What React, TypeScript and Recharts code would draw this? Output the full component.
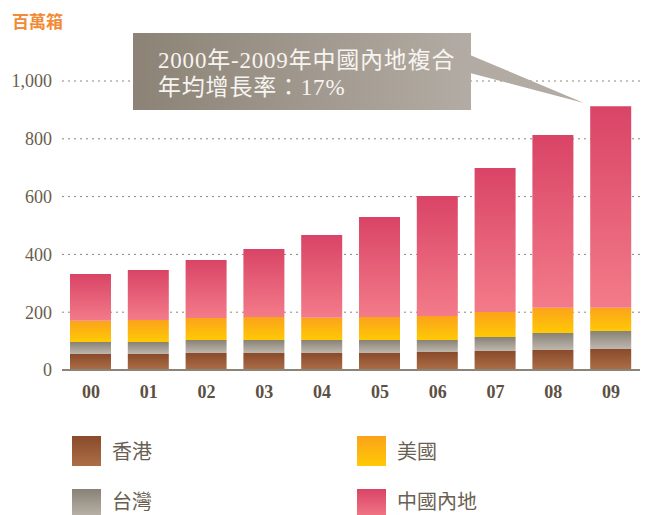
import React from "react";
import { BarChart, Bar, XAxis, YAxis, CartesianGrid } from "recharts";

// years (2000-2009), unit: 百萬箱
const years = ["00", "01", "02", "03", "04", "05", "06", "07", "08", "09"];
const hongKong = [55, 55, 59, 59, 59, 59, 62, 66, 69, 73];
const taiwan = [42, 42, 45, 45, 45, 45, 42, 48, 59, 62];
const usa = [73, 76, 76, 79, 77, 79, 83, 87, 87, 80];
const mainland = [162, 173, 201, 236, 286, 346, 415, 498, 598, 698];
const yTicks = [0, 200, 400, 600, 800, 1000];

const series = [
  { key: "hk", name: "香港", values: hongKong, top: "#8a4a2b", bottom: "#ab6f47" },
  { key: "tw", name: "台灣", values: taiwan, top: "#888175", bottom: "#bdb7ae" },
  { key: "us", name: "美國", values: usa, top: "#fba31b", bottom: "#ffc904" },
  { key: "cn", name: "中國內地", values: mainland, top: "#d94466", bottom: "#f37b89" },
];

const data = years.map((year, i) => {
  const row: Record<string, string | number> = { year };
  series.forEach((s) => {
    row[s.key] = s.values[i];
  });
  return row;
});

const serif = "'Liberation Serif', 'Times New Roman', serif";
const cjk = "'Noto Sans CJK TC', 'Noto Sans CJK SC', sans-serif";

function LegendItem({ label, top, bottom, left, y, textTop }: any) {
  return (
    <>
      <div
        style={{
          position: "absolute",
          left,
          top: y,
          width: 29,
          height: 30,
          background: `linear-gradient(to bottom, ${top}, ${bottom})`,
        }}
      />
      <div
        style={{
          position: "absolute",
          left: left + 40,
          top: textTop,
          fontFamily: cjk,
          fontSize: 20,
          color: "#6a5f52",
          lineHeight: "20px",
          whiteSpace: "nowrap",
        }}
      >
        {label}
      </div>
    </>
  );
}

export default function App() {
  return (
    <div
      style={{
        position: "absolute",
        left: 0,
        top: 0,
        width: 646,
        height: 515,
        overflow: "hidden",
        background: "#fff",
      }}
    >
      <div
        style={{
          position: "absolute",
          left: 12,
          top: 12,
          fontFamily: cjk,
          fontWeight: 700,
          fontSize: 17,
          lineHeight: "17px",
          color: "#f28a36",
        }}
      >
        百萬箱
      </div>

      <div style={{ position: "absolute", left: 0, top: 0 }}>
        <BarChart
          width={646}
          height={420}
          data={data}
          margin={{ top: 81, right: 6, left: 0, bottom: 0 }}
        >
          <defs>
            {series.map((s) => (
              <linearGradient key={s.key} id={`grad-${s.key}`} x1="0" y1="0" x2="0" y2="1">
                <stop offset="0%" stopColor={s.top} />
                <stop offset="100%" stopColor={s.bottom} />
              </linearGradient>
            ))}
          </defs>
          <CartesianGrid
            vertical={false}
            stroke="#8f8676"
            strokeDasharray="2 4"
            strokeWidth={1}
          />
          <XAxis
            dataKey="year"
            height={50}
            tickLine={false}
            tickSize={0}
            tickMargin={15}
            axisLine={{ stroke: "#8c8477", strokeWidth: 2 }}
            tick={{ fontFamily: serif, fontWeight: 700, fontSize: 18, fill: "#5c5044" }}
          />
          <YAxis
            width={62}
            domain={[0, 1000]}
            ticks={yTicks}
            axisLine={false}
            tickLine={false}
            tickSize={0}
            tickMargin={10}
            tickFormatter={(v: number) => v.toLocaleString("en-US")}
            tick={{ fontFamily: serif, fontSize: 18, fill: "#6a5d4d" }}
          />
          {series.map((s) => (
            <Bar
              key={s.key}
              dataKey={s.key}
              name={s.name}
              stackId="ports"
              barSize={41}
              fill={`url(#grad-${s.key})`}
              isAnimationActive={false}
            />
          ))}
        </BarChart>
      </div>

      {/* callout */}
      <svg
        width={646}
        height={515}
        style={{ position: "absolute", left: 0, top: 0, pointerEvents: "none" }}
      >
        <defs>
          <linearGradient id="callout" x1="0" y1="0" x2="1" y2="0">
            <stop offset="0%" stopColor="#8c8376" />
            <stop offset="100%" stopColor="#b3aca4" />
          </linearGradient>
        </defs>
        <rect x={133} y={33} width={338} height={77} fill="url(#callout)" />
        <polygon points="470,55 470,73 584,103" fill="#b2aba3" />
      </svg>
      <div
        style={{
          position: "absolute",
          left: 158,
          top: 47,
          fontFamily: `${serif.split(",")[0]}, ${cjk}`,
          fontSize: 23,
          letterSpacing: 0.8,
          lineHeight: "27px",
          color: "#f7f4f0",
          whiteSpace: "nowrap",
        }}
      >
        <div>2000年-2009年中國內地複合</div>
        <div>年均增長率：17%</div>
      </div>

      <LegendItem label="香港" top={series[0].top} bottom={series[0].bottom} left={72} y={436} textTop={441} />
      <LegendItem label="美國" top={series[2].top} bottom={series[2].bottom} left={357} y={436} textTop={441} />
      <LegendItem label="台灣" top={series[1].top} bottom={series[1].bottom} left={72} y={489} textTop={491} />
      <LegendItem label="中國內地" top={series[3].top} bottom={series[3].bottom} left={357} y={489} textTop={491} />
    </div>
  );
}
